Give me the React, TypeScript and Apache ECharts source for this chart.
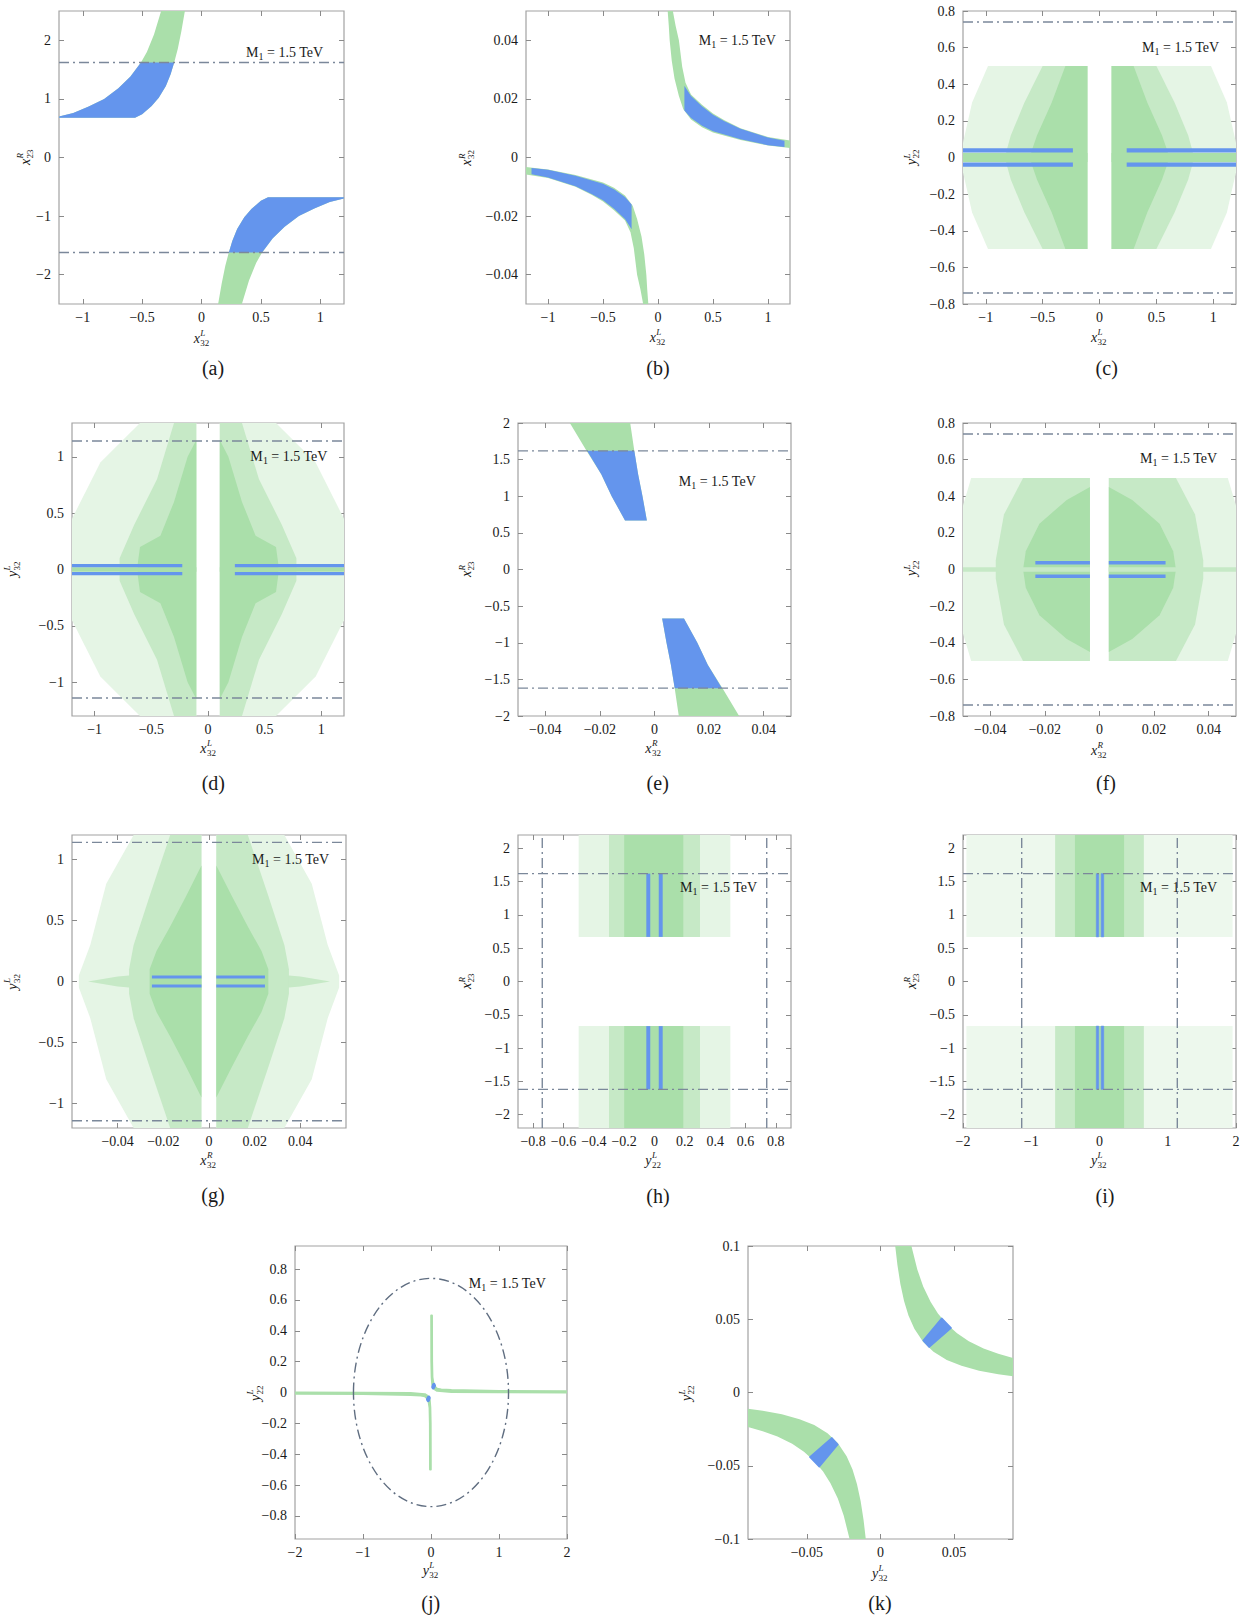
import React, { useEffect, useRef } from 'react';
import * as echarts from 'echarts';

const FF = '"Liberation Serif", "Times New Roman", serif';
const GREEN = '#aadfaa';
const GREEN_MID = '#c6e9c6';
const GREEN_SPARSE = '#e5f5e5';
const GREEN_FAINT = '#edf8ed';
const BLUE = '#6495ed';
const DASH = '#7b889a';
const ELLIPSE = '#5f6d80';

// ---------- tick labels ----------
const ticksX12 = [-1, -0.5, 0, 0.5, 1];
const ticksY25 = [-2, -1, 0, 1, 2];
const ticks004 = [-0.04, -0.02, 0, 0.02, 0.04];
const ticks08 = [-0.8, -0.6, -0.4, -0.2, 0, 0.2, 0.4, 0.6, 0.8];
const ticksHalf1 = [-1, -0.5, 0, 0.5, 1];
const ticksHalf2 = [-2, -1.5, -1, -0.5, 0, 0.5, 1, 1.5, 2];
const ticks2 = [-2, -1, 0, 1, 2];
const ticksKX = [-0.05, 0, 0.05];
const ticksKY = [-0.1, -0.05, 0, 0.05, 0.1];

// ---------- bound lines ----------
const boundX23 = [1.62, -1.62];
const boundY22 = [0.74, -0.74];
const boundY32 = [1.14, -1.14];
const ellipseJ = [0, 0, 1.14, 0.74];

// ---------- panel (a) ----------
const aGreenUp = [[-0.34, 2.5], [-0.40, 2.1], [-0.46, 1.8], [-0.51, 1.62], [-0.60, 1.38], [-0.70, 1.18], [-0.82, 1.0], [-0.95, 0.87], [-1.08, 0.76], [-1.2, 0.70], [-1.2, 0.68], [-0.56, 0.68], [-0.50, 0.74], [-0.42, 0.88], [-0.36, 1.02], [-0.30, 1.22], [-0.26, 1.42], [-0.23, 1.62], [-0.20, 1.85], [-0.17, 2.15], [-0.14, 2.5]];
const aBlueUp = [[-0.51, 1.62], [-0.60, 1.38], [-0.70, 1.18], [-0.82, 1.0], [-0.95, 0.87], [-1.08, 0.76], [-1.2, 0.70], [-1.2, 0.68], [-0.56, 0.68], [-0.50, 0.74], [-0.42, 0.88], [-0.36, 1.02], [-0.30, 1.22], [-0.26, 1.42], [-0.23, 1.62]];
const aGreenLo = [[0.34, -2.5], [0.40, -2.1], [0.46, -1.8], [0.51, -1.62], [0.60, -1.38], [0.70, -1.18], [0.82, -1.0], [0.95, -0.87], [1.08, -0.76], [1.2, -0.70], [1.2, -0.68], [0.56, -0.68], [0.50, -0.74], [0.42, -0.88], [0.36, -1.02], [0.30, -1.22], [0.26, -1.42], [0.23, -1.62], [0.20, -1.85], [0.17, -2.15], [0.14, -2.5]];
const aBlueLo = [[0.51, -1.62], [0.60, -1.38], [0.70, -1.18], [0.82, -1.0], [0.95, -0.87], [1.08, -0.76], [1.2, -0.70], [1.2, -0.68], [0.56, -0.68], [0.50, -0.74], [0.42, -0.88], [0.36, -1.02], [0.30, -1.22], [0.26, -1.42], [0.23, -1.62]];

// ---------- panel (b) ----------
const bGreenUp = [[0.088, 0.05], [0.098, 0.045], [0.106, 0.04], [0.125, 0.033], [0.15, 0.027], [0.19, 0.021], [0.23, 0.0165], [0.3, 0.013], [0.4, 0.0103], [0.5, 0.0085], [0.75, 0.006], [1.0, 0.0041], [1.2, 0.0032], [1.2, 0.0058], [1.0, 0.007], [0.75, 0.01], [0.6, 0.0128], [0.5, 0.015], [0.4, 0.018], [0.3, 0.0215], [0.25, 0.0255], [0.22, 0.031], [0.19, 0.04], [0.16, 0.045], [0.135, 0.05]];
const bBlueUp = [[0.24, 0.0245], [0.3, 0.021], [0.4, 0.0175], [0.5, 0.0146], [0.6, 0.0125], [0.75, 0.0098], [1.0, 0.0068], [1.15, 0.0057], [1.15, 0.0036], [1.0, 0.0042], [0.75, 0.0062], [0.5, 0.009], [0.4, 0.0108], [0.3, 0.0135], [0.24, 0.016]];
const bGreenLo = [[-0.088, -0.05], [-0.098, -0.045], [-0.106, -0.04], [-0.125, -0.033], [-0.15, -0.027], [-0.19, -0.021], [-0.23, -0.0165], [-0.3, -0.013], [-0.4, -0.0103], [-0.5, -0.0085], [-0.75, -0.006], [-1.0, -0.0041], [-1.2, -0.0032], [-1.2, -0.0058], [-1.0, -0.007], [-0.75, -0.01], [-0.6, -0.0128], [-0.5, -0.015], [-0.4, -0.018], [-0.3, -0.0215], [-0.25, -0.0255], [-0.22, -0.031], [-0.19, -0.04], [-0.16, -0.045], [-0.135, -0.05]];
const bBlueLo = [[-0.24, -0.0245], [-0.3, -0.021], [-0.4, -0.0175], [-0.5, -0.0146], [-0.6, -0.0125], [-0.75, -0.0098], [-1.0, -0.0068], [-1.15, -0.0057], [-1.15, -0.0036], [-1.0, -0.0042], [-0.75, -0.0062], [-0.5, -0.009], [-0.4, -0.0108], [-0.3, -0.0135], [-0.24, -0.016]];

// ---------- panel (c) ----------
const cSparseL = [[-0.106, 0.5], [-0.98, 0.5], [-1.12, 0.3], [-1.2, 0.08], [-1.2, -0.08], [-1.12, -0.3], [-0.98, -0.5], [-0.106, -0.5]];
const cMidL = [[-0.106, 0.5], [-0.5, 0.5], [-0.66, 0.3], [-0.78, 0.12], [-0.82, 0.03], [-0.82, -0.03], [-0.78, -0.12], [-0.66, -0.3], [-0.5, -0.5], [-0.106, -0.5]];
const cDenseL = [[-0.106, 0.5], [-0.3, 0.5], [-0.42, 0.3], [-0.55, 0.12], [-0.6, 0.03], [-0.6, -0.03], [-0.55, -0.12], [-0.42, -0.3], [-0.3, -0.5], [-0.106, -0.5]];
const cStripL = [[-1.2, 0.025], [-0.106, 0.025], [-0.106, -0.025], [-1.2, -0.025]];
const cSparseR = [[0.106, 0.5], [0.98, 0.5], [1.12, 0.3], [1.2, 0.08], [1.2, -0.08], [1.12, -0.3], [0.98, -0.5], [0.106, -0.5]];
const cMidR = [[0.106, 0.5], [0.5, 0.5], [0.66, 0.3], [0.78, 0.12], [0.82, 0.03], [0.82, -0.03], [0.78, -0.12], [0.66, -0.3], [0.5, -0.5], [0.106, -0.5]];
const cDenseR = [[0.106, 0.5], [0.3, 0.5], [0.42, 0.3], [0.55, 0.12], [0.6, 0.03], [0.6, -0.03], [0.55, -0.12], [0.42, -0.3], [0.3, -0.5], [0.106, -0.5]];
const cStripR = [[1.2, 0.025], [0.106, 0.025], [0.106, -0.025], [1.2, -0.025]];
const cBlue1 = [[-1.2, 0.05], [-0.234, 0.05], [-0.234, 0.027], [-1.2, 0.027]];
const cBlue2 = [[-1.2, -0.027], [-0.234, -0.027], [-0.234, -0.05], [-1.2, -0.05]];
const cBlue3 = [[0.239, 0.05], [1.2, 0.05], [1.2, 0.027], [0.239, 0.027]];
const cBlue4 = [[0.239, -0.027], [1.2, -0.027], [1.2, -0.05], [0.239, -0.05]];

// ---------- panel (d) ----------
const dSparseL = [[-0.103, 1.3], [-0.6, 1.3], [-0.95, 0.95], [-1.2, 0.45], [-1.2, -0.45], [-0.95, -0.95], [-0.6, -1.3], [-0.103, -1.3]];
const dMidL = [[-0.103, 1.3], [-0.3, 1.3], [-0.45, 0.8], [-0.65, 0.4], [-0.78, 0.1], [-0.78, -0.1], [-0.65, -0.4], [-0.45, -0.8], [-0.3, -1.3], [-0.103, -1.3]];
const dDenseL = [[-0.103, 1.15], [-0.18, 1.0], [-0.3, 0.6], [-0.42, 0.3], [-0.6, 0.2], [-0.62, 0.05], [-0.62, -0.05], [-0.6, -0.2], [-0.42, -0.3], [-0.3, -0.6], [-0.18, -1.0], [-0.103, -1.15]];
const dStripL = [[-1.2, 0.02], [-0.103, 0.02], [-0.103, -0.02], [-1.2, -0.02]];
const dSparseR = [[0.104, 1.3], [0.6, 1.3], [0.95, 0.95], [1.2, 0.45], [1.2, -0.45], [0.95, -0.95], [0.6, -1.3], [0.104, -1.3]];
const dMidR = [[0.104, 1.3], [0.3, 1.3], [0.45, 0.8], [0.65, 0.4], [0.78, 0.1], [0.78, -0.1], [0.65, -0.4], [0.45, -0.8], [0.3, -1.3], [0.104, -1.3]];
const dDenseR = [[0.104, 1.15], [0.18, 1.0], [0.3, 0.6], [0.42, 0.3], [0.6, 0.2], [0.62, 0.05], [0.62, -0.05], [0.6, -0.2], [0.42, -0.3], [0.3, -0.6], [0.18, -1.0], [0.104, -1.15]];
const dStripR = [[1.2, 0.02], [0.104, 0.02], [0.104, -0.02], [1.2, -0.02]];
const dBlue1 = [[-1.2, 0.048], [-0.227, 0.048], [-0.227, 0.02], [-1.2, 0.02]];
const dBlue2 = [[-1.2, -0.022], [-0.227, -0.022], [-0.227, -0.052], [-1.2, -0.052]];
const dBlue3 = [[0.237, 0.048], [1.2, 0.048], [1.2, 0.02], [0.237, 0.02]];
const dBlue4 = [[0.237, -0.022], [1.2, -0.022], [1.2, -0.052], [0.237, -0.052]];

// ---------- panel (e) ----------
const eGreenUp = [[-0.031, 2.0], [-0.0249, 1.62], [-0.0195, 1.3], [-0.0157, 1.0], [-0.0108, 0.67], [-0.0028, 0.67], [-0.0044, 1.0], [-0.006, 1.3], [-0.0074, 1.62], [-0.0089, 2.0]];
const eBlueUp = [[-0.0247, 1.62], [-0.0195, 1.3], [-0.0157, 1.0], [-0.0108, 0.67], [-0.0028, 0.67], [-0.0044, 1.0], [-0.006, 1.3], [-0.0074, 1.62]];
const eGreenLo = [[0.031, -2.0], [0.0249, -1.62], [0.0195, -1.3], [0.0157, -1.0], [0.0108, -0.67], [0.0028, -0.67], [0.0044, -1.0], [0.006, -1.3], [0.0074, -1.62], [0.0089, -2.0]];
const eBlueLo = [[0.0247, -1.62], [0.0195, -1.3], [0.0157, -1.0], [0.0108, -0.67], [0.0028, -0.67], [0.0044, -1.0], [0.006, -1.3], [0.0074, -1.62]];

// ---------- panel (f) ----------
const fSparseL = [[-0.0035, 0.5], [-0.047, 0.5], [-0.05, 0.35], [-0.05, -0.35], [-0.047, -0.5], [-0.0035, -0.5]];
const fMidL = [[-0.0035, 0.5], [-0.028, 0.5], [-0.035, 0.3], [-0.038, 0.05], [-0.038, -0.05], [-0.035, -0.3], [-0.028, -0.5], [-0.0035, -0.5]];
const fDenseL = [[-0.0035, 0.45], [-0.012, 0.38], [-0.022, 0.25], [-0.027, 0.1], [-0.028, 0], [-0.027, -0.1], [-0.022, -0.25], [-0.012, -0.38], [-0.0035, -0.45]];
const fStripL = [[-0.05, 0.012], [-0.0035, 0.012], [-0.0035, -0.012], [-0.05, -0.012]];
const fSparseR = [[0.0034, 0.5], [0.047, 0.5], [0.05, 0.35], [0.05, -0.35], [0.047, -0.5], [0.0034, -0.5]];
const fMidR = [[0.0034, 0.5], [0.028, 0.5], [0.035, 0.3], [0.038, 0.05], [0.038, -0.05], [0.035, -0.3], [0.028, -0.5], [0.0034, -0.5]];
const fDenseR = [[0.0034, 0.45], [0.012, 0.38], [0.022, 0.25], [0.027, 0.1], [0.028, 0], [0.027, -0.1], [0.022, -0.25], [0.012, -0.38], [0.0034, -0.45]];
const fStripR = [[0.05, 0.012], [0.0034, 0.012], [0.0034, -0.012], [0.05, -0.012]];
const fBlue1 = [[-0.0235, 0.046], [-0.0035, 0.046], [-0.0035, 0.027], [-0.0235, 0.027]];
const fBlue2 = [[-0.0235, -0.027], [-0.0035, -0.027], [-0.0035, -0.046], [-0.0235, -0.046]];
const fBlue3 = [[0.0034, 0.046], [0.0242, 0.046], [0.0242, 0.027], [0.0034, 0.027]];
const fBlue4 = [[0.0034, -0.027], [0.0242, -0.027], [0.0242, -0.046], [0.0034, -0.046]];

// ---------- panel (g) ----------
const gSparseL = [[-0.0033, 1.2], [-0.033, 1.2], [-0.045, 0.8], [-0.052, 0.3], [-0.057, 0.05], [-0.057, -0.05], [-0.052, -0.3], [-0.045, -0.8], [-0.033, -1.2], [-0.0033, -1.2]];
const gMidL = [[-0.0033, 1.2], [-0.017, 1.2], [-0.026, 0.7], [-0.033, 0.3], [-0.035, 0.1], [-0.035, -0.1], [-0.033, -0.3], [-0.026, -0.7], [-0.017, -1.2], [-0.0033, -1.2]];
const gDenseL = [[-0.0033, 0.95], [-0.01, 0.7], [-0.017, 0.45], [-0.023, 0.25], [-0.026, 0.1], [-0.026, -0.1], [-0.023, -0.25], [-0.017, -0.45], [-0.01, -0.7], [-0.0033, -0.95]];
const gWingL = [[-0.053, 0], [-0.04, 0.04], [-0.025, 0.065], [-0.0033, 0.07], [-0.0033, -0.07], [-0.025, -0.065], [-0.04, -0.04]];
const gSparseR = [[0.0032, 1.2], [0.033, 1.2], [0.045, 0.8], [0.052, 0.3], [0.057, 0.05], [0.057, -0.05], [0.052, -0.3], [0.045, -0.8], [0.033, -1.2], [0.0032, -1.2]];
const gMidR = [[0.0032, 1.2], [0.017, 1.2], [0.026, 0.7], [0.033, 0.3], [0.035, 0.1], [0.035, -0.1], [0.033, -0.3], [0.026, -0.7], [0.017, -1.2], [0.0032, -1.2]];
const gDenseR = [[0.0032, 0.95], [0.01, 0.7], [0.017, 0.45], [0.023, 0.25], [0.026, 0.1], [0.026, -0.1], [0.023, -0.25], [0.017, -0.45], [0.01, -0.7], [0.0032, -0.95]];
const gWingR = [[0.053, 0], [0.04, 0.04], [0.025, 0.065], [0.0032, 0.07], [0.0032, -0.07], [0.025, -0.065], [0.04, -0.04]];
const gBlue1 = [[-0.025, 0.049], [-0.0033, 0.049], [-0.0033, 0.025], [-0.025, 0.025]];
const gBlue2 = [[-0.025, -0.025], [-0.0033, -0.025], [-0.0033, -0.049], [-0.025, -0.049]];
const gBlue3 = [[0.0032, 0.049], [0.0245, 0.049], [0.0245, 0.025], [0.0032, 0.025]];
const gBlue4 = [[0.0032, -0.025], [0.0245, -0.025], [0.0245, -0.049], [0.0032, -0.049]];

// ---------- panel (h) ----------
const hSparseU = [[-0.5, 2.2], [0.5, 2.2], [0.5, 0.67], [-0.5, 0.67]];
const hMidU = [[-0.3, 2.2], [0.3, 2.2], [0.3, 0.67], [-0.3, 0.67]];
const hDenseU = [[-0.2, 2.2], [0.19, 2.2], [0.19, 0.67], [-0.2, 0.67]];
const hSparseD = [[-0.5, -2.2], [0.5, -2.2], [0.5, -0.67], [-0.5, -0.67]];
const hMidD = [[-0.3, -2.2], [0.3, -2.2], [0.3, -0.67], [-0.3, -0.67]];
const hDenseD = [[-0.2, -2.2], [0.19, -2.2], [0.19, -0.67], [-0.2, -0.67]];
const hBlue1 = [[-0.054, 1.62], [-0.028, 1.62], [-0.028, 0.67], [-0.054, 0.67]];
const hBlue2 = [[0.028, 1.62], [0.054, 1.62], [0.054, 0.67], [0.028, 0.67]];
const hBlue3 = [[-0.054, -1.62], [-0.028, -1.62], [-0.028, -0.67], [-0.054, -0.67]];
const hBlue4 = [[0.028, -1.62], [0.054, -1.62], [0.054, -0.67], [0.028, -0.67]];

// ---------- panel (i) ----------
const iSparseU = [[-1.95, 2.2], [1.95, 2.2], [1.95, 0.67], [-1.95, 0.67]];
const iMidU = [[-0.65, 2.2], [0.65, 2.2], [0.65, 0.67], [-0.65, 0.67]];
const iDenseU = [[-0.36, 2.2], [0.36, 2.2], [0.36, 0.67], [-0.36, 0.67]];
const iSparseD = [[-1.95, -2.2], [1.95, -2.2], [1.95, -0.67], [-1.95, -0.67]];
const iMidD = [[-0.65, -2.2], [0.65, -2.2], [0.65, -0.67], [-0.65, -0.67]];
const iDenseD = [[-0.36, -2.2], [0.36, -2.2], [0.36, -0.67], [-0.36, -0.67]];
const iBlue1 = [[-0.047, 1.62], [-0.012, 1.62], [-0.012, 0.67], [-0.047, 0.67]];
const iBlue2 = [[0.025, 1.62], [0.062, 1.62], [0.062, 0.67], [0.025, 0.67]];
const iBlue3 = [[-0.047, -1.62], [-0.012, -1.62], [-0.012, -0.67], [-0.047, -0.67]];
const iBlue4 = [[0.025, -1.62], [0.062, -1.62], [0.062, -0.67], [0.025, -0.67]];

// ---------- panel (j) ----------
const jGreenUR = [[0.003, 0.5], [0.005, 0.2], [0.01, 0.1], [0.018, 0.052], [0.03, 0.035], [0.05, 0.022], [0.09, 0.011], [0.3, 0.004], [1.0, 0.0015], [2.0, 0.0008], [2.0, 0.008], [1.0, 0.01], [0.3, 0.016], [0.15, 0.02], [0.09, 0.025], [0.055, 0.039], [0.036, 0.058], [0.028, 0.08], [0.021, 0.1], [0.016, 0.2], [0.014, 0.5]];
const jGreenLL = [[-0.003, -0.5], [-0.005, -0.2], [-0.01, -0.1], [-0.018, -0.052], [-0.03, -0.035], [-0.05, -0.022], [-0.09, -0.011], [-0.3, -0.004], [-1.0, -0.0015], [-2.0, -0.0008], [-2.0, -0.008], [-1.0, -0.01], [-0.3, -0.016], [-0.15, -0.02], [-0.09, -0.025], [-0.055, -0.039], [-0.036, -0.058], [-0.028, -0.08], [-0.021, -0.1], [-0.016, -0.2], [-0.014, -0.5]];

// ---------- panel (k) ----------
const kGreenUR = [[0.010, 0.1], [0.0115, 0.087], [0.0135, 0.074], [0.016, 0.0625], [0.019, 0.0526], [0.023, 0.0435], [0.029, 0.0345], [0.036, 0.0278], [0.045, 0.0222], [0.055, 0.0182], [0.067, 0.0149], [0.08, 0.0125], [0.09, 0.0111], [0.09, 0.0235], [0.08, 0.0265], [0.07, 0.030], [0.06, 0.035], [0.052, 0.0404], [0.045, 0.0467], [0.039, 0.054], [0.034, 0.062], [0.029, 0.0724], [0.025, 0.084], [0.021, 0.1]];
const kGreenLL = [[-0.010, -0.1], [-0.0115, -0.087], [-0.0135, -0.074], [-0.016, -0.0625], [-0.019, -0.0526], [-0.023, -0.0435], [-0.029, -0.0345], [-0.036, -0.0278], [-0.045, -0.0222], [-0.055, -0.0182], [-0.067, -0.0149], [-0.08, -0.0125], [-0.09, -0.0111], [-0.09, -0.0235], [-0.08, -0.0265], [-0.07, -0.030], [-0.06, -0.035], [-0.052, -0.0404], [-0.045, -0.0467], [-0.039, -0.054], [-0.034, -0.062], [-0.029, -0.0724], [-0.025, -0.084], [-0.021, -0.1]];
const kBlueUR = [[0.029, 0.0355], [0.033, 0.031], [0.048, 0.044], [0.0416, 0.0507]];
const kBlueLL = [[-0.029, -0.0355], [-0.033, -0.031], [-0.048, -0.044], [-0.0416, -0.0507]];

const fmt = (v: number) => {
  const r = Math.round(v * 10000) / 10000;
  if (r === 0) return '0';
  const s = String(Math.abs(r));
  return r < 0 ? '\u2212' + s : s;
};

type Layer = [number[][], string, string?, number?];

const panels: any[] = [
  { grid: [59, 11, 285, 293], xr: [-1.2, 1.2], yr: [-2.5, 2.5], xt: ticksX12, yt: ticksY25,
    layers: [[aGreenUp, GREEN], [aGreenLo, GREEN], [aBlueUp, BLUE], [aBlueLo, BLUE]] as Layer[],
    hl: boundX23, vl: [], m1: [324, 52], cap: ['(a)', 213, 368], xn: ['x', 'L', '32', 201.7, 338], yn: ['x', 'R', '23', 25, 157] },
  { grid: [526, 11, 264, 293], xr: [-1.2, 1.2], yr: [-0.05, 0.05], xt: ticksX12, yt: ticks004,
    layers: [[bGreenUp, GREEN], [bGreenLo, GREEN], [bBlueUp, BLUE], [bBlueLo, BLUE]],
    hl: [], vl: [], m1: [776.7, 40], cap: ['(b)', 658, 368], xn: ['x', 'L', '32', 657.7, 337], yn: ['x', 'R', '32', 466.7, 157.7] },
  { grid: [963, 11, 273, 293], xr: [-1.2, 1.2], yr: [-0.8, 0.8], xt: ticksX12, yt: ticks08,
    layers: [[cSparseL, GREEN_SPARSE], [cSparseR, GREEN_SPARSE], [cMidL, GREEN_MID], [cMidR, GREEN_MID], [cDenseL, GREEN], [cDenseR, GREEN], [cStripL, GREEN], [cStripR, GREEN],
      [cBlue1, BLUE], [cBlue2, BLUE], [cBlue3, BLUE], [cBlue4, BLUE]],
    hl: boundY22, vl: [], m1: [1220, 47.3], cap: ['(c)', 1106.7, 368], xn: ['x', 'L', '32', 1099, 337], yn: ['y', 'L', '22', 911.7, 157] },
  { grid: [72, 423, 272, 293], xr: [-1.2, 1.2], yr: [-1.3, 1.3], xt: ticksX12, yt: ticksHalf1,
    layers: [[dSparseL, GREEN_SPARSE], [dSparseR, GREEN_SPARSE], [dMidL, GREEN_MID], [dMidR, GREEN_MID], [dDenseL, GREEN], [dDenseR, GREEN], [dStripL, GREEN], [dStripR, GREEN],
      [dBlue1, BLUE], [dBlue2, BLUE], [dBlue3, BLUE], [dBlue4, BLUE]],
    hl: boundY32, vl: [], m1: [328.3, 456.7], cap: ['(d)', 213.3, 782.7], xn: ['x', 'L', '32', 208.3, 748], yn: ['y', 'L', '32', 12, 569] },
  { grid: [518, 423, 273, 293], xr: [-0.05, 0.05], yr: [-2, 2], xt: ticks004, yt: ticksHalf2,
    layers: [[eGreenUp, GREEN], [eGreenLo, GREEN], [eBlueUp, BLUE], [eBlueLo, BLUE]],
    hl: boundX23, vl: [], m1: [756.7, 481], cap: ['(e)', 657.7, 782.7], xn: ['x', 'R', '32', 653.3, 748], yn: ['x', 'R', '23', 466.7, 569] },
  { grid: [963, 423, 273, 293], xr: [-0.05, 0.05], yr: [-0.8, 0.8], xt: ticks004, yt: ticks08,
    layers: [[fSparseL, GREEN_SPARSE], [fSparseR, GREEN_SPARSE], [fMidL, GREEN_MID], [fMidR, GREEN_MID], [fDenseL, GREEN], [fDenseR, GREEN], [fStripL, GREEN_MID], [fStripR, GREEN_MID],
      [fBlue1, BLUE], [fBlue2, BLUE], [fBlue3, BLUE], [fBlue4, BLUE]],
    hl: boundY22, vl: [], m1: [1218, 458.3], cap: ['(f)', 1106, 782.7], xn: ['x', 'R', '32', 1099, 750], yn: ['y', 'L', '22', 911.7, 568] },
  { grid: [72, 835, 274, 293], xr: [-0.06, 0.06], yr: [-1.2, 1.2], xt: ticks004, yt: ticksHalf1,
    layers: [[gSparseL, GREEN_SPARSE], [gSparseR, GREEN_SPARSE], [gWingL, GREEN_MID], [gWingR, GREEN_MID], [gMidL, GREEN_MID], [gMidR, GREEN_MID], [gDenseL, GREEN], [gDenseR, GREEN],
      [gBlue1, BLUE], [gBlue2, BLUE], [gBlue3, BLUE], [gBlue4, BLUE]],
    hl: boundY32, vl: [], m1: [330, 859.3], cap: ['(g)', 213, 1195], xn: ['x', 'R', '32', 208.3, 1160], yn: ['y', 'L', '32', 12, 981.7] },
  { grid: [518, 835, 273, 293], xr: [-0.9, 0.9], yr: [-2.2, 2.2], xt: ticks08, yt: ticksHalf2,
    layers: [[hSparseU, GREEN_SPARSE], [hSparseD, GREEN_SPARSE], [hMidU, GREEN_MID], [hMidD, GREEN_MID], [hDenseU, GREEN], [hDenseD, GREEN],
      [hBlue1, BLUE], [hBlue2, BLUE], [hBlue3, BLUE], [hBlue4, BLUE]],
    hl: boundX23, vl: boundY22, m1: [758, 887.7], cap: ['(h)', 658, 1196], xn: ['y', 'L', '22', 653.3, 1160], yn: ['x', 'R', '23', 466.7, 981] },
  { grid: [963, 835, 273, 293], xr: [-2, 2], yr: [-2.2, 2.2], xt: ticks2, yt: ticksHalf2,
    layers: [[iSparseU, GREEN_FAINT], [iSparseD, GREEN_FAINT], [iMidU, GREEN_MID], [iMidD, GREEN_MID], [iDenseU, GREEN], [iDenseD, GREEN],
      [iBlue1, BLUE, BLUE, 0.6], [iBlue2, BLUE, BLUE, 0.6], [iBlue3, BLUE, BLUE, 0.6], [iBlue4, BLUE, BLUE, 0.6]],
    hl: boundX23, vl: boundY32, m1: [1218, 887.7], cap: ['(i)', 1105, 1196], xn: ['y', 'L', '32', 1099, 1160], yn: ['x', 'R', '23', 911.7, 981] },
  { grid: [295, 1246, 272, 293], xr: [-2, 2], yr: [-0.95, 0.95], xt: ticks2, yt: ticks08,
    layers: [[jGreenUR, GREEN, GREEN, 2], [jGreenLL, GREEN, GREEN, 2], [kBlueUR, BLUE, BLUE, 3.5], [kBlueLL, BLUE, BLUE, 3.5]],
    hl: [], vl: [], ellipse: ellipseJ, m1: [546.7, 1283.3], cap: ['(j)', 430.7, 1603], xn: ['y', 'L', '32', 430.7, 1570], yn: ['y', 'L', '22', 255, 1393] },
  { grid: [748, 1246, 265, 293], xr: [-0.09, 0.09], yr: [-0.1, 0.1], xt: ticksKX, yt: ticksKY,
    layers: [[kGreenUR, GREEN], [kGreenLL, GREEN], [kBlueUR, BLUE, BLUE, 1.5], [kBlueLL, BLUE, BLUE, 1.5]],
    hl: [], vl: [], m1: null, cap: ['(k)', 880, 1602.7], xn: ['y', 'L', '32', 880, 1573], yn: ['y', 'L', '22', 686.7, 1393] },
];

const txt = (text: string, x: number, y: number, font: string, align = 'left') => ({
  type: 'text', x, y, z: 100,
  style: { text, font, fill: '#1a1a1a', textAlign: align, align, textVerticalAlign: 'middle', verticalAlign: 'middle' },
});

const axisTitle = (n: any[]) => {
  const [b, sup, sub, cx, cy] = n;
  return (vertical: boolean) => {
    const children = [
      txt(b, 0, 0, `italic 14px ${FF}`),
      txt(sup, 6.6, -4.6, `italic 9px ${FF}`),
      txt(sub, 6.6, 4.6, `9px ${FF}`),
    ];
    return vertical
      ? { type: 'group', x: cx, y: cy + 8, rotation: Math.PI / 2, children }
      : { type: 'group', x: cx - 8, y: cy, children };
  };
};

const m1Label = (rx: number, cy: number) => ({
  type: 'group', x: rx - 78, y: cy,
  children: [
    txt('M', 0, 0, `14px ${FF}`),
    txt('1', 12.6, 4, `10px ${FF}`),
    txt('= 1.5 TeV', 21, 0, `14px ${FF}`),
  ],
});

function buildOption() {
  const grid: any[] = [];
  const xAxis: any[] = [];
  const yAxis: any[] = [];
  const series: any[] = [];
  const graphic: any[] = [];

  panels.forEach((p, i) => {
    grid.push({ left: p.grid[0], top: p.grid[1], width: p.grid[2], height: p.grid[3], show: true, borderColor: '#a2a2a2', borderWidth: 1.2, backgroundColor: 'transparent', containLabel: false });
    const tick = (vals: number[]) => ({ show: true, inside: true, length: 5, customValues: vals, lineStyle: { color: '#8a8a8a', width: 1 } });
    [false, true].forEach((mirror) => {
      xAxis.push({
        type: 'value', gridIndex: i, min: p.xr[0], max: p.xr[1], position: mirror ? 'top' : 'bottom',
        axisLine: { show: false, onZero: false }, splitLine: { show: false }, axisTick: tick(p.xt),
        axisLabel: { show: !mirror, customValues: p.xt, formatter: fmt, fontFamily: FF, fontSize: 14, color: '#1a1a1a', margin: 6 },
      });
      yAxis.push({
        type: 'value', gridIndex: i, min: p.yr[0], max: p.yr[1], position: mirror ? 'right' : 'left',
        axisLine: { show: false, onZero: false }, splitLine: { show: false }, axisTick: tick(p.yt),
        axisLabel: { show: !mirror, customValues: p.yt, formatter: fmt, fontFamily: FF, fontSize: 14, color: '#1a1a1a', margin: 8 },
      });
    });
    const xi = i * 2;
    (p.layers as Layer[]).forEach(([pts, fill, stroke, lw]) => {
      series.push({
        type: 'custom', xAxisIndex: xi, yAxisIndex: xi, clip: true, silent: true, z: 2,
        data: [pts[0]],
        renderItem: (_params: any, api: any) => ({
          type: 'polygon',
          shape: { points: pts.map((pt) => api.coord(pt)) },
          style: { fill, stroke: stroke || 'none', lineWidth: lw || 0, lineJoin: 'round' },
        }),
      });
    });
    const dashStyle = { color: DASH, width: 1.4, type: [10, 4, 2, 4] };
    (p.hl as number[]).forEach((v) => {
      series.push({ type: 'line', xAxisIndex: xi, yAxisIndex: xi, data: [[p.xr[0], v], [p.xr[1], v]], symbol: 'none', silent: true, z: 5, lineStyle: dashStyle });
    });
    (p.vl as number[]).forEach((v) => {
      series.push({ type: 'line', xAxisIndex: xi, yAxisIndex: xi, data: [[v, p.yr[0]], [v, p.yr[1]]], symbol: 'none', silent: true, z: 5, lineStyle: dashStyle });
    });
    if (p.ellipse) {
      const e = p.ellipse as number[];
      series.push({
        type: 'custom', xAxisIndex: xi, yAxisIndex: xi, clip: true, silent: true, z: 5,
        data: [e],
        renderItem: (_params: any, api: any) => {
          const c = api.coord([e[0], e[1]]);
          const s = api.size([e[2], e[3]]);
          return { type: 'ellipse', shape: { cx: c[0], cy: c[1], rx: s[0], ry: s[1] }, style: { fill: 'none', stroke: ELLIPSE, lineWidth: 1.4, lineDash: [10, 4, 2, 4] } };
        },
      });
    }
    graphic.push(axisTitle(p.xn)(false));
    graphic.push(axisTitle(p.yn)(true));
    if (p.m1) graphic.push(m1Label(p.m1[0], p.m1[1]));
    graphic.push(txt(p.cap[0], p.cap[1], p.cap[2], `20px ${FF}`, 'center'));
  });

  return { animation: false, backgroundColor: '#ffffff', textStyle: { fontFamily: FF }, grid, xAxis, yAxis, series, graphic };
}

export default function App() {
  const ref = useRef<HTMLDivElement>(null);
  useEffect(() => {
    if (!ref.current) return;
    const chart = echarts.init(ref.current, null, { renderer: 'svg' });
    chart.setOption(buildOption() as any);
    return () => chart.dispose();
  }, []);
  return <div ref={ref} style={{ position: 'absolute', left: 0, top: 0, width: 1247, height: 1615, background: '#fff' }} />;
}
